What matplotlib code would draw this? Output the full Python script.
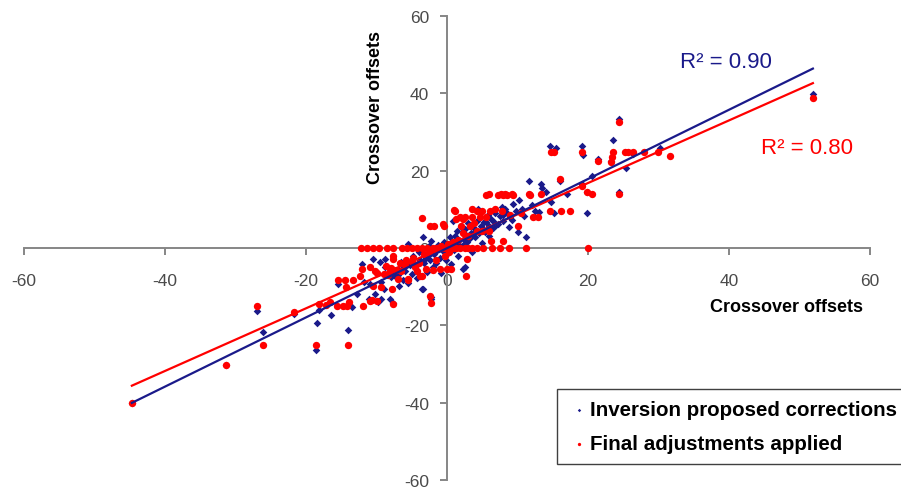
import numpy as np
import matplotlib
matplotlib.use("Agg")
import matplotlib.pyplot as plt

plt.rcParams['font.family'] = ['Liberation Sans', 'DejaVu Sans']
plt.rcParams['axes.unicode_minus'] = False

# crossover offsets: (x, y) pairs for each solution
inversion_pts = [
    (-44.7, -40.0), (-31.3, -30.2), (-26.9, -16.2), (-26.1, -21.8), (-21.7, -17.0),
    (-18.6, -26.5), (-18.4, -19.4), (-18.2, -16.0), (-16.5, -17.3), (-15.5, -9.3),
    (-14.0, -21.2), (-13.5, -15.2), (-12.8, -11.9), (-12.1, -4.1), (-11.8, -8.8),
    (-11.0, -13.2), (-10.9, -9.3), (-10.5, -2.8), (-10.2, -11.9), (-9.8, -14.0),
    (-9.5, -3.6), (-9.3, -8.9), (-9.3, -13.2), (-9.0, -10.5), (-8.8, -2.8),
    (-8.8, -4.9), (-8.1, -13.2), (-8.0, -7.5), (-7.6, -14.3), (-7.4, -7.2),
    (-7.0, -5.5), (-6.8, -9.8), (-6.5, -3.5), (-6.2, -8.4), (-6.0, -6.0),
    (-5.6, -9.0), (-5.5, 1.0), (-5.3, -4.5), (-5.0, -6.7), (-4.8, -2.0),
    (-4.5, -5.0), (-4.2, -7.8), (-4.0, -1.0), (-3.6, -10.6), (-3.4, 2.8),
    (-3.4, -10.6), (-3.2, -4.0), (-3.0, -2.5), (-2.8, -6.2), (-2.6, 0.5),
    (-2.4, -3.2), (-2.2, 1.9), (-2.2, -12.6), (-2.2, -13.2), (-2.0, -5.0),
    (-1.8, -1.5), (-1.5, -3.8), (-1.3, 0.8), (-1.0, -2.5), (-0.8, -6.5),
    (-0.6, -0.8), (-0.4, 1.5), (-0.2, -3.0), (0.0, -1.5), (0.2, 0.5),
    (0.4, 2.8), (0.5, -4.2), (0.7, 1.2), (0.9, 7.1), (1.0, -0.5),
    (1.2, 3.0), (1.4, 4.5), (1.5, -2.0), (1.7, 2.0), (2.0, 5.5),
    (2.2, 0.8), (2.3, -5.4), (2.5, 3.5), (2.6, 4.9), (2.6, -5.0),
    (2.8, 1.5), (3.0, 6.5), (3.2, 2.5), (3.4, 4.0), (3.6, -1.0),
    (3.8, 5.2), (4.0, 2.8), (4.2, 7.0), (4.4, 10.1), (4.5, 3.8),
    (4.8, 5.8), (5.0, 1.2), (5.2, 6.8), (5.4, 4.2), (5.6, 6.6),
    (5.8, 8.5), (6.0, 3.0), (6.3, 7.5), (6.5, 5.2), (6.8, 9.0),
    (7.0, 6.0), (7.3, 6.2), (7.5, 8.2), (7.8, 10.5), (8.0, 7.0),
    (8.2, 10.1), (8.5, 9.0), (8.8, 5.5), (9.0, 8.0), (9.4, 11.4),
    (9.8, 9.5), (10.1, 4.1), (10.2, 12.4), (10.6, 10.0), (11.2, 2.8),
    (11.7, 17.4), (12.0, 11.0), (12.5, 9.5), (13.1, 9.2), (13.3, 16.5),
    (13.5, 15.5), (14.0, 14.5), (14.6, 26.4), (14.7, 11.8), (15.2, 9.0),
    (15.5, 25.8), (16.0, 17.2), (17.0, 14.0), (19.1, 26.3), (19.3, 24.0),
    (19.1, 16.5), (19.9, 14.4), (19.9, 9.0), (20.5, 18.7), (21.4, 23.0),
    (23.2, 22.5), (23.5, 28.0), (24.4, 33.3), (24.4, 14.4), (25.4, 20.8),
    (26.4, 24.2), (30.2, 25.8), (51.9, 39.8),
    (-7.8, -6.2), (-6.9, -7.0), (-6.1, -4.8), (-4.9, -4.2), (-3.9, -3.0),
    (-3.1, -2.0), (-1.9, -0.9), (-1.1, 0.2), (-0.1, 0.6), (0.8, 0.1),
    (1.6, 1.0), (2.4, 2.2), (3.3, 3.1), (4.1, 4.4), (5.1, 4.9),
    (5.9, 5.6), (6.7, 6.8), (7.9, 8.6), (9.2, 7.2), (10.9, 8.3),
]

final_pts = [
    (-44.7, -40.0), (-31.3, -30.2), (-26.9, -14.9), (-26.1, -25.1), (-21.7, -16.6),
    (-18.6, -25.1), (-18.1, -14.5), (-17.2, -14.8), (-16.6, -14.0), (-15.6, -15.0),
    (-15.5, -8.3), (-14.7, -15.0), (-14.5, -8.3), (-14.3, -10.0), (-14.0, -25.0),
    (-14.2, -14.9), (-13.9, -14.0), (-13.3, -8.3), (-12.3, -7.2), (-12.0, -5.5),
    (-11.9, -14.9), (-10.9, -13.7), (-10.9, -5.0), (-10.6, -13.5), (-10.5, -9.7),
    (-10.2, -6.0), (-9.9, -13.7), (-9.9, -6.5), (-9.3, -10.2), (-8.6, -4.6),
    (-8.3, -7.0), (-8.1, -5.9), (-7.8, -10.6), (-7.6, -2.0), (-7.6, -2.8),
    (-7.6, -14.5), (-7.0, -8.0), (-6.5, -6.0), (-6.0, -4.5), (-5.5, -8.0),
    (-5.5, -8.4), (-5.0, -3.5), (-4.6, -5.0), (-4.2, -6.0), (-3.8, -7.2),
    (-3.6, -7.2), (-3.5, 7.8), (-3.0, -5.5), (-2.4, -12.3), (-2.4, 5.8),
    (-2.2, -14.3), (-2.0, -5.7), (-1.8, 5.8), (-1.5, -3.0), (-1.0, -5.5),
    (-0.5, 6.2), (-0.4, 5.8), (-0.3, -2.0), (0.0, -5.5), (0.3, -1.0),
    (0.6, -5.5), (1.0, 9.8), (1.1, 9.6), (1.3, 7.5), (1.5, 2.0),
    (1.8, 8.0), (2.0, 5.8), (2.3, 7.5), (2.6, 8.0), (2.7, -7.2),
    (2.8, -2.8), (3.0, 3.0), (3.2, 5.8), (3.5, 8.0), (3.5, 10.0),
    (4.2, 4.5), (4.2, 9.6), (4.7, 8.0), (4.9, 4.5), (5.0, 9.6),
    (5.6, 13.7), (5.6, 8.0), (5.9, 4.5), (5.9, 14.0), (6.1, 9.6),
    (6.3, 1.9), (6.8, 10.0), (7.2, 13.7), (7.6, 14.0), (7.8, 9.6),
    (8.0, 1.9), (8.0, 13.8), (8.2, 14.0), (8.5, 13.7), (9.0, 8.5),
    (9.2, 14.0), (9.4, 13.8), (10.1, 5.8), (10.5, 9.0), (11.7, 14.0),
    (11.8, 13.8), (12.2, 8.0), (12.9, 8.0), (13.3, 14.0), (14.6, 9.6),
    (14.7, 24.9), (15.2, 24.9), (16.0, 17.8), (16.2, 9.5), (17.5, 9.6),
    (19.1, 24.9), (19.1, 16.0), (19.9, 14.4), (20.5, 14.0), (21.4, 22.5),
    (23.2, 22.2), (23.4, 23.5), (23.5, 24.8), (24.4, 32.7), (24.4, 14.0),
    (25.2, 24.9), (25.7, 24.9), (26.4, 24.9), (27.9, 24.9), (30.0, 24.9),
    (31.6, 23.9), (51.9, 38.7),
    (-9.0, -6.8), (-8.0, -5.2), (-7.2, -5.6), (-6.6, -4.0), (-5.8, -3.2),
    (-4.8, -2.6), (-4.0, -3.8), (-3.2, -1.6), (-2.6, -1.2), (-1.7, -0.6),
    (-0.9, 0.4), (0.1, 1.0), (0.9, 1.6), (2.2, 3.8), (3.9, 6.4),
]
# adjustments that were set to zero
final_zero_x = [-12.2, -11.3, -10.5, -9.6, -8.5, -7.6, -6.4, -5.7, -5.0, -4.3,
                -3.5, -2.8, -2.0, -1.4, -0.8, -0.3, 0.3, 0.8, 1.3, 1.9,
                2.5, 3.0, 3.6, 4.2, 5.1, 6.4, 7.5, 8.8, 11.2, 20.0]

# linear trend lines (slope, intercept) and their R²
inv_fit = (0.895, -0.05)
fin_fit = (0.81, 0.6)
inv_r2 = 0.90
fin_r2 = 0.80

series_names = ['Inversion proposed corrections', 'Final adjustments applied']
ticks = [-60, -40, -20, 0, 20, 40, 60]

navy = '#1a1a8a'
red = '#ff0000'
grey = '#868686'

inv = np.array(inversion_pts)
fin = np.vstack([np.array(final_pts),
                 np.column_stack([final_zero_x, np.zeros(len(final_zero_x))])])

fig = plt.figure(figsize=(9.01, 4.89), dpi=100)
ax = fig.add_axes([24 / 901, 8 / 489, 846 / 901, 464 / 489])

ax.scatter(inv[:, 0], inv[:, 1], marker='D', s=15, color=navy, lw=0, zorder=3,
           label=series_names[0])
ax.scatter(fin[:, 0], fin[:, 1], marker='o', s=28, color=red, lw=0, zorder=3,
           label=series_names[1])

xs = np.array([min(inv[:, 0].min(), fin[:, 0].min()), max(inv[:, 0].max(), fin[:, 0].max())])
ax.plot(xs, fin_fit[0] * xs + fin_fit[1], color=red, lw=1.6, zorder=4)
ax.plot(xs, inv_fit[0] * xs + inv_fit[1], color=navy, lw=1.6, zorder=4)

ax.set_xlim(-60, 60)
ax.set_ylim(-60, 60)
ax.set_xticks(ticks)
ax.set_yticks(ticks)

# axes crossing at the origin
for side in ['top', 'right']:
    ax.spines[side].set_visible(False)
ax.spines['left'].set_position(('data', 0))
ax.spines['bottom'].set_position(('data', 0))
for side in ['left', 'bottom']:
    ax.spines[side].set_color(grey)
    ax.spines[side].set_linewidth(1.4)
ax.tick_params(axis='both', direction='out', length=5, width=1.4, color=grey,
               labelsize=12.5, labelcolor='#4a4a4a')
ax.tick_params(axis='x', pad=13)
ax.tick_params(axis='y', pad=8)

fig.text(787 / 901, 1 - 308 / 489, 'Crossover offsets', fontsize=13, fontweight='bold',
         ha='center', va='center')
fig.text(376 / 901, 1 - 108 / 489, 'Crossover offsets', fontsize=13, fontweight='bold',
         ha='center', va='center', rotation=90)

fig.text(726 / 901, 1 - 62 / 489, f'R² = {inv_r2:.2f}', fontsize=16, color=navy,
         ha='center', va='center')
fig.text(807 / 901, 1 - 148 / 489, f'R² = {fin_r2:.2f}', fontsize=16, color=red,
         ha='center', va='center')

leg = fig.legend(loc='upper left', bbox_to_anchor=(557 / 901, 1 - 390 / 489),
                 prop={'weight': 'bold', 'size': 14.8},
                 markerscale=0.45, handletextpad=0.05, handlelength=1.0,
                 borderpad=0.55, labelspacing=0.72, fancybox=False, framealpha=1,
                 borderaxespad=0)
leg.get_frame().set_edgecolor('#404040')
leg.get_frame().set_linewidth(1.0)

fig.savefig('out.png', dpi=100)
